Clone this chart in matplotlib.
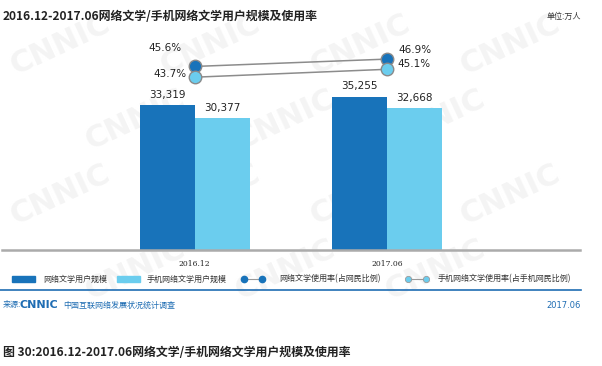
import numpy as np
import matplotlib
matplotlib.use("Agg")
import matplotlib.pyplot as plt
from matplotlib.patches import Rectangle
from matplotlib.lines import Line2D

# データ
periods = ["2016.12", "2017.06"]
users = [33319, 35255]          # 网络文学用户规模 (万人)
mobile_users = [30377, 32668]   # 手机网络文学用户规模 (万人)
rate = [45.6, 46.9]             # 网络文学使用率
mobile_rate = [43.7, 45.1]      # 手机网络文学使用率

bar_labels = ["网络文学用户规模", "手机网络文学用户规模"]
line_labels = ["网络文学使用率(占网民比例)", "手机网络文学使用率(占手机网民比例)"]
title = "2016.12-2017.06网络文学/手机网络文学用户规模及使用率"
caption = "图 30:2016.12-2017.06网络文学/手机网络文学用户规模及使用率"

plt.rcParams['font.family'] = ['Noto Sans CJK SC', 'DejaVu Sans']

W, H = 602, 366
DARK = "#1873ba"
LIGHT = "#6bcdee"
BLUE = "#1f6db3"


def fx(x):
    return x / W


def fy(y):
    return 1 - y / H


fig = plt.figure(figsize=(W / 100, H / 100), dpi=100)

# 透かし (背景用の軸)
bg = fig.add_axes([0, 0, 1, 1], zorder=-10)
bg.set_xlim(0, W)
bg.set_ylim(H, 0)
bg.axis("off")
for row, y in enumerate(range(45, 340, 75)):
    off = 0 if row % 2 == 0 else 75
    for x in range(60 + off, 560, 150):
        bg.text(x, y, "CNNIC", fontsize=22, fontweight="bold",
                color="#f4f4f4", rotation=25, ha="center", va="center",
                family="DejaVu Sans")

ax = fig.add_axes([fx(2), fy(250), fx(580) - fx(2), fy(24) - fy(250)])
ax.patch.set_alpha(0)
x = np.arange(len(periods))
bw = 0.285
b1 = ax.bar(x - bw / 2, users, bw, color=DARK, zorder=2)
b2 = ax.bar(x + bw / 2, mobile_users, bw, color=LIGHT, zorder=2)
ax.set_xlim(-1, 2)
ax.set_ylim(0, 52000)
for bars in (b1, b2):
    for r in bars:
        v = r.get_height()
        ax.annotate(f"{v:,}", (r.get_x() + r.get_width() / 2, v),
                    xytext=(0, 7.5), textcoords="offset points",
                    ha="center", va="center", fontsize=7.5, color="#222222",
                    family="DejaVu Sans")
for s in ["top", "left", "right"]:
    ax.spines[s].set_visible(False)
ax.spines["bottom"].set_color("#ababab")
ax.spines["bottom"].set_linewidth(1.8)
ax.set_yticks([])
ax.set_xticks(x)
ax.set_xticklabels(periods, fontsize=5.5, family="DejaVu Serif", color="#222222")
ax.tick_params(axis="x", length=0, pad=7)

ax2 = ax.twinx()
ax2.set_ylim(13.17, 53.1)
ax2.set_yticks([])
for s in ax2.spines.values():
    s.set_visible(False)
ax2.plot(x, rate, color="#8c8c8c", lw=1.1, marker="o", markersize=9,
         markerfacecolor=DARK, markeredgecolor="#8a8a8a", markeredgewidth=1, zorder=3)
ax2.plot(x, mobile_rate, color="#8c8c8c", lw=1.1, marker="o", markersize=9,
         markerfacecolor=LIGHT, markeredgecolor="#8a8a8a", markeredgewidth=1, zorder=3)
offs_rate = [(-21.5, 13.5), (20, 6.5)]
offs_mrate = [(-18, 2.5), (19, 3.5)]
for i in range(len(periods)):
    ax2.annotate(f"{rate[i]}%", (x[i], rate[i]), xytext=offs_rate[i],
                 textcoords="offset points", ha="center", va="center",
                 fontsize=7.5, color="#222222", family="DejaVu Sans")
    ax2.annotate(f"{mobile_rate[i]}%", (x[i], mobile_rate[i]), xytext=offs_mrate[i],
                 textcoords="offset points", ha="center", va="center",
                 fontsize=7.5, color="#222222", family="DejaVu Sans")

# タイトル
fig.text(fx(3), fy(16), title, fontsize=8.6, fontweight="bold",
         ha="left", va="center", color="#222222")
fig.text(fx(581), fy(16), "单位:万人", fontsize=5.8, ha="right", va="center",
         color="#333333")

# 凡例
ly = 279
fig.patches.append(Rectangle((fx(12), fy(ly + 3)), fx(35) - fx(12), 6 / H,
                             transform=fig.transFigure, color=DARK))
fig.text(fx(43), fy(ly), bar_labels[0], fontsize=5.8, va="center", color="#333333")
fig.patches.append(Rectangle((fx(117), fy(ly + 3)), fx(140) - fx(117), 6 / H,
                             transform=fig.transFigure, color=LIGHT))
fig.text(fx(147), fy(ly), bar_labels[1], fontsize=5.8, va="center", color="#333333")
fig.add_artist(Line2D([fx(244), fx(262)], [fy(ly), fy(ly)], transform=fig.transFigure,
                      color="#999999", lw=0.8, marker="o", markersize=4.5,
                      markerfacecolor=DARK, markeredgecolor=DARK))
fig.text(fx(279), fy(ly), line_labels[0], fontsize=5.8, va="center", color="#333333")
fig.add_artist(Line2D([fx(408), fx(426)], [fy(ly), fy(ly)], transform=fig.transFigure,
                      color="#999999", lw=0.8, marker="o", markersize=4.5,
                      markerfacecolor=LIGHT, markeredgecolor="#9a9a9a", markeredgewidth=0.6))
fig.text(fx(438), fy(ly), line_labels[1], fontsize=5.8, va="center", color="#333333")

# 出典
fig.add_artist(Line2D([fx(0), fx(581)], [fy(290), fy(290)], transform=fig.transFigure,
                      color=BLUE, lw=1.2))
fig.text(fx(3), fy(305), "来源:", fontsize=5.8, va="center", color=BLUE)
fig.text(fx(20), fy(305), "CNNIC", fontsize=8, fontweight="bold", va="center",
         color=BLUE, family="DejaVu Sans")
fig.text(fx(63), fy(305), "中国互联网络发展状况统计调查", fontsize=5.8, va="center", color=BLUE)
fig.text(fx(581), fy(305), "2017.06", fontsize=6, ha="right", va="center",
         color=BLUE, family="DejaVu Sans")

fig.text(fx(3), fy(352), caption, fontsize=8.6, fontweight="bold",
         ha="left", va="center", color="#222222")

fig.savefig("out.png", dpi=100)
